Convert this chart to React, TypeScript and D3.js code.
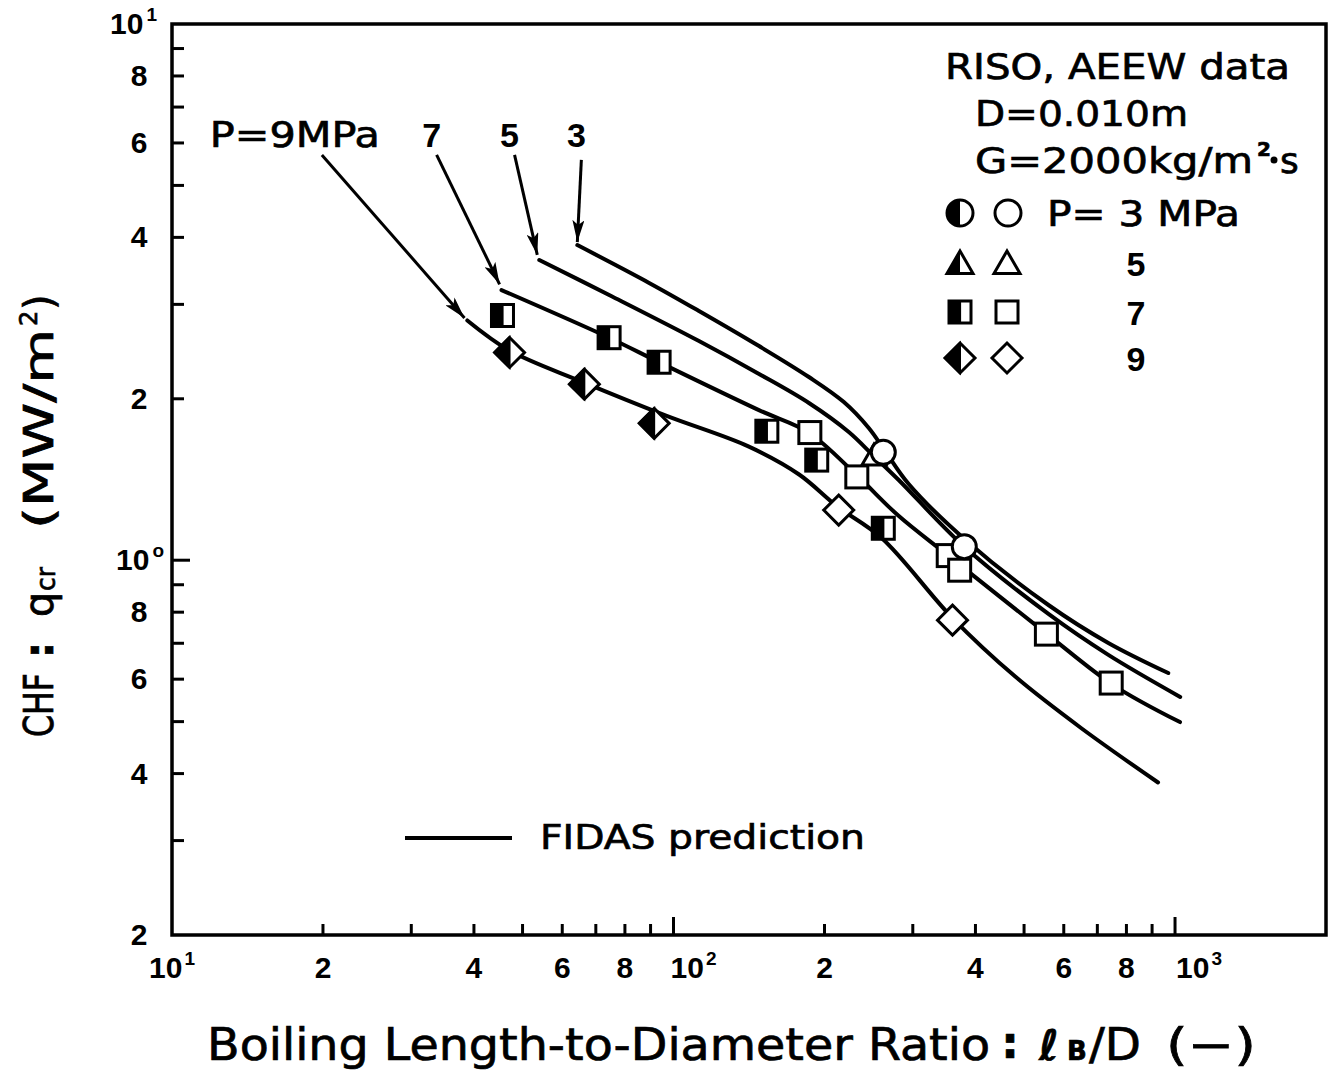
import React from 'react';
import * as d3 from 'd3';

// ---------- axis settings ----------
const X_DOMAIN: [number, number] = [10, 2000];
const Y_DOMAIN: [number, number] = [0.2, 10];

const xMinorTicks = [20, 30, 40, 50, 60, 70, 80, 90, 200, 300, 400, 500, 600, 700, 800, 900];
const xMajorTicks = [100, 1000];
const xLabelValues = [10, 20, 40, 60, 80, 100, 200, 400, 600, 800, 1000];
const xLabelTexts = ['10', '2', '4', '6', '8', '10', '2', '4', '6', '8', '10'];
const xLabelSups = ['1', '', '', '', '', '2', '', '', '', '', '3'];

const yMinorTicks = [0.3, 0.4, 0.5, 0.6, 0.7, 0.8, 0.9, 2, 3, 4, 5, 6, 7, 8, 9];
const yMajorTicks = [1];
const yLabelValues = [10, 8, 6, 4, 2, 1, 0.8, 0.6, 0.4, 0.2];
const yLabelTexts = ['10', '8', '6', '4', '2', '10', '8', '6', '4', '2'];
const yLabelSups = ['1', '', '', '', '', 'o', '', '', '', ''];

// ---------- FIDAS prediction curves ----------
const curveP3X = [64.3, 89.4, 112.4, 148.1, 186.2, 218.6, 245.1, 265, 294.4, 382.2, 559.2, 736.2, 969.4];
const curveP3Y = [3.87, 3.29, 2.916, 2.508, 2.196, 1.972, 1.764, 1.591, 1.387, 1.091, 0.825, 0.701, 0.616];

const curveP5X = [54, 75.1, 112.4, 148.1, 186.2, 223.6, 250.8, 281.2, 378.7, 559.2, 736.2, 1024];
const curveP5Y = [3.63, 3.11, 2.563, 2.225, 1.964, 1.734, 1.564, 1.411, 1.063, 0.794, 0.666, 0.556];

const curveP7X = [45.4, 74.4, 93.6, 148, 186, 232, 281, 353, 559, 753, 1023];
const curveP7Y = [3.19, 2.60, 2.34, 1.905, 1.73, 1.44, 1.21, 1.02, 0.725, 0.585, 0.499];

const curveP9X = [38.8, 47.1, 65.8, 96.6, 141, 178, 212, 260, 360, 480.8, 650.5, 925];
const curveP9Y = [2.80, 2.46, 2.15, 1.86, 1.63, 1.445, 1.26, 1.10, 0.78, 0.606, 0.486, 0.385];

// ---------- experimental data (RISO, AEEW) ----------
const p3OpenX = [262, 380];
const p3OpenY = [1.59, 1.06];
const p5OpenX = [251];
const p5OpenY = [1.55];
const p7HalfX = [45.6, 74.4, 93.6, 153.5, 193, 262];
const p7HalfY = [2.86, 2.60, 2.34, 1.74, 1.537, 1.147];
const p7OpenX = [187, 232, 353, 372, 554, 746];
const p7OpenY = [1.73, 1.43, 1.02, 0.958, 0.728, 0.59];
const p9HalfX = [47.1, 66.4, 91.5];
const p9HalfY = [2.44, 2.13, 1.80];
const p9OpenX = [213.5, 360];
const p9OpenY = [1.24, 0.773];

// ---------- curve labels / arrows (data coordinates) ----------
const arrowLabels = ['P=9MPa', '7', '5', '3'];
const arrowTailX = [19.9, 33.7, 48.2, 65.5];
const arrowTailY = [5.70, 5.70, 5.70, 5.58];
const arrowHeadX = [38.3, 45.0, 53.5, 64.3];
const arrowHeadY = [2.83, 3.27, 3.71, 3.92];

const FONT = "'DejaVu Sans', 'Noto Sans', sans-serif";
const NUMFONT = "'Liberation Sans', Arial, sans-serif";
const HEAVY = { stroke: '#000', strokeWidth: 0.7 };

const zip = (a: number[], b: number[]) => a.map((v, i) => [v, b[i]] as [number, number]);

function Square({ cx, cy, half }: { cx: number; cy: number; half: boolean }) {
  const s = 22;
  return (
    <g>
      <rect x={cx - s / 2} y={cy - s / 2} width={s} height={s} fill="#fff" stroke="#000" strokeWidth={3} />
      {half && <rect x={cx - s / 2} y={cy - s / 2} width={s * 0.55} height={s} fill="#000" />}
    </g>
  );
}

function Diamond({ cx, cy, half }: { cx: number; cy: number; half: boolean }) {
  const r = 15;
  return (
    <g>
      <polygon points={`${cx},${cy - r} ${cx + r},${cy} ${cx},${cy + r} ${cx - r},${cy}`} fill="#fff" stroke="#000" strokeWidth={3} strokeLinejoin="miter" />
      {half && <polygon points={`${cx},${cy - r} ${cx},${cy + r} ${cx - r},${cy}`} fill="#000" stroke="#000" strokeWidth={2} />}
    </g>
  );
}

function Circle({ cx, cy, half, r = 12 }: { cx: number; cy: number; half: boolean; r?: number }) {
  return (
    <g>
      <circle cx={cx} cy={cy} r={r} fill="#fff" stroke="#000" strokeWidth={3} />
      {half && <path d={`M${cx},${cy - r} A${r},${r} 0 0 0 ${cx},${cy + r} Z`} fill="#000" />}
    </g>
  );
}

function Triangle({ cx, cy, half, s = 24 }: { cx: number; cy: number; half: boolean; s?: number }) {
  const h = s * 0.866;
  const top = cy - (2 * h) / 3;
  const bot = cy + h / 3;
  return (
    <g>
      <polygon points={`${cx},${top} ${cx + s / 2},${bot} ${cx - s / 2},${bot}`} fill="#fff" stroke="#000" strokeWidth={3} strokeLinejoin="miter" />
      {half && <polygon points={`${cx},${top} ${cx},${bot} ${cx - s / 2},${bot}`} fill="#000" />}
    </g>
  );
}

export default function App() {
  const W = 1330;
  const H = 1070;
  const x = d3.scaleLog().domain(X_DOMAIN).range([172, 1326]);
  const y = d3.scaleLog().domain(Y_DOMAIN).range([935, 24]);

  const line = d3
    .line<[number, number]>()
    .x((d) => x(d[0]))
    .y((d) => y(d[1]))
    .curve(d3.curveCatmullRom.alpha(0.5));

  const curves = [
    zip(curveP3X, curveP3Y),
    zip(curveP5X, curveP5Y),
    zip(curveP7X, curveP7Y),
    zip(curveP9X, curveP9Y),
  ];

  const left = x(X_DOMAIN[0]);
  const right = x(X_DOMAIN[1]);
  const top = y(Y_DOMAIN[1]);
  const bottom = y(Y_DOMAIN[0]);

  const xLabelDx = (v: number) => (v === 100 ? 20 : v === 1000 ? 24 : 0);
  const labelBaseY = y(arrowTailY[0]) - 8;

  return (
    <svg
      width={W}
      height={H}
      viewBox={`0 0 ${W} ${H}`}
      style={{ display: 'block', background: '#fff', position: 'absolute', left: 0, top: 0 }}
    >
      <defs>
        <marker id="ah" markerUnits="userSpaceOnUse" markerWidth={24} markerHeight={12} refX={22} refY={6} orient="auto">
          <path d="M0,0 L22,6 L0,12 L5,6 Z" fill="#000" />
        </marker>
      </defs>
      <rect x={0} y={0} width={W} height={H} fill="#fff" />

      {/* frame */}
      <rect x={left} y={top} width={right - left} height={bottom - top} fill="none" stroke="#000" strokeWidth={3.5} />

      {/* x ticks */}
      {xMinorTicks.map((v) => (
        <line key={'xm' + v} x1={x(v)} x2={x(v)} y1={bottom} y2={bottom - 11} stroke="#000" strokeWidth={3} />
      ))}
      {xMajorTicks.map((v) => (
        <line key={'xM' + v} x1={x(v)} x2={x(v)} y1={bottom} y2={bottom - 18} stroke="#000" strokeWidth={3} />
      ))}
      {/* y ticks */}
      {yMinorTicks.map((v) => (
        <line key={'ym' + v} x1={left} x2={left + 12} y1={y(v)} y2={y(v)} stroke="#000" strokeWidth={3} />
      ))}
      {yMajorTicks.map((v) => (
        <line key={'yM' + v} x1={left} x2={left + 18} y1={y(v)} y2={y(v)} stroke="#000" strokeWidth={3} />
      ))}

      {/* x tick labels */}
      {xLabelValues.map((v, i) => (
        <text key={'xl' + v} x={x(v) + xLabelDx(v)} y={bottom + 43} textAnchor="middle" fontFamily={NUMFONT} fontWeight="bold" fontSize={30}>
          {xLabelTexts[i]}
          {xLabelSups[i] && (
            <tspan fontSize={19} dy={-13} dx={2}>
              {xLabelSups[i]}
            </tspan>
          )}
        </text>
      ))}
      {/* y tick labels */}
      {yLabelValues.map((v, i) =>
        yLabelSups[i] ? (
          <text key={'yl' + v} x={left - (v === 1 ? 8 : 15)} y={y(v) + 10} textAnchor="end" fontFamily={NUMFONT} fontWeight="bold" fontSize={30}>
            {yLabelTexts[i]}
            <tspan fontSize={19} dy={-13} dx={3}>
              {yLabelSups[i]}
            </tspan>
          </text>
        ) : (
          <text key={'yl' + v} x={left - 33} y={y(v) + 10} textAnchor="middle" fontFamily={NUMFONT} fontWeight="bold" fontSize={30}>
            {yLabelTexts[i]}
          </text>
        )
      )}

      {/* x axis title */}
      <g {...HEAVY}>
        <text x={207} y={1060} fontFamily={FONT} fontSize={44} textLength={783} lengthAdjust="spacingAndGlyphs">
          Boiling Length-to-Diameter Ratio
        </text>
        <text x={1010} y={1058} textAnchor="middle" fontFamily={FONT} fontSize={44} fontWeight="bold">:</text>
        <text x={1049} y={1060} textAnchor="middle" fontFamily={FONT} fontSize={42} fontStyle="italic" fontWeight="bold">ℓ</text>
        <text x={1077} y={1060} textAnchor="middle" fontFamily={FONT} fontSize={26} fontWeight="bold">B</text>
        <text x={1089} y={1060} fontFamily={FONT} fontSize={44} textLength={52} lengthAdjust="spacingAndGlyphs">/D</text>
        <text x={1166} y={1060} fontFamily={FONT} fontSize={44} textLength={90} lengthAdjust="spacingAndGlyphs">(−)</text>
      </g>

      {/* y axis title (rotated) */}
      <g transform="translate(53,737) rotate(-90)" {...HEAVY}>
        <text x={0} y={0} fontFamily={FONT} fontSize={40} textLength={64} lengthAdjust="spacingAndGlyphs">CHF</text>
        <text x={87} y={0} textAnchor="middle" fontFamily={FONT} fontSize={40} fontWeight="bold">:</text>
        <text x={120} y={0} fontFamily={FONT} fontSize={40} textLength={25} lengthAdjust="spacingAndGlyphs">q</text>
        <text x={146} y={2} fontFamily={FONT} fontSize={26} textLength={24} lengthAdjust="spacingAndGlyphs">cr</text>
        <text x={208} y={0} fontFamily={FONT} fontSize={40} textLength={200} lengthAdjust="spacingAndGlyphs">(MW/m</text>
        <text x={411} y={-16} fontFamily={FONT} fontSize={24}>2</text>
        <text x={427} y={0} fontFamily={FONT} fontSize={40}>)</text>
      </g>

      {/* prediction curves */}
      {curves.map((c, i) => (
        <path key={'c' + i} d={line(c) || ''} fill="none" stroke="#000" strokeWidth={4} strokeLinecap="round" />
      ))}

      {/* arrows and curve labels */}
      {arrowLabels.map((lab, i) => (
        <line
          key={'ar' + i}
          x1={x(arrowTailX[i])}
          y1={y(arrowTailY[i])}
          x2={x(arrowHeadX[i])}
          y2={y(arrowHeadY[i])}
          stroke="#000"
          strokeWidth={3}
          markerEnd="url(#ah)"
        />
      ))}
      <text x={x(arrowTailX[0]) + 58} y={labelBaseY} textAnchor="end" fontFamily={FONT} fontSize={36} textLength={170} lengthAdjust="spacingAndGlyphs" {...HEAVY}>
        {arrowLabels[0]}
      </text>
      {arrowLabels.slice(1).map((lab, j) => (
        <text key={'al' + j} x={x(arrowTailX[j + 1]) - 5} y={labelBaseY} textAnchor="middle" fontFamily={NUMFONT} fontWeight="bold" fontSize={34}>
          {lab}
        </text>
      ))}

      {/* data points */}
      {zip(p7HalfX, p7HalfY).map((d, i) => (
        <Square key={'p7h' + i} cx={x(d[0])} cy={y(d[1])} half />
      ))}
      {zip(p5OpenX, p5OpenY).map((d, i) => (
        <Triangle key={'p5o' + i} cx={x(d[0])} cy={y(d[1])} half={false} />
      ))}
      {zip(p7OpenX, p7OpenY).map((d, i) => (
        <Square key={'p7o' + i} cx={x(d[0])} cy={y(d[1])} half={false} />
      ))}
      {zip(p9HalfX, p9HalfY).map((d, i) => (
        <Diamond key={'p9h' + i} cx={x(d[0])} cy={y(d[1])} half />
      ))}
      {zip(p9OpenX, p9OpenY).map((d, i) => (
        <Diamond key={'p9o' + i} cx={x(d[0])} cy={y(d[1])} half={false} />
      ))}
      {zip(p3OpenX, p3OpenY).map((d, i) => (
        <Circle key={'p3o' + i} cx={x(d[0])} cy={y(d[1])} half={false} />
      ))}

      {/* legend (upper right) */}
      <g {...HEAVY}>
        <text x={945} y={79} fontFamily={FONT} fontSize={36} textLength={345} lengthAdjust="spacingAndGlyphs">RISO, AEEW data</text>
        <text x={975} y={126} fontFamily={FONT} fontSize={36} textLength={213} lengthAdjust="spacingAndGlyphs">D=0.010m</text>
        <text x={975} y={173} fontFamily={FONT} fontSize={36} textLength={278} lengthAdjust="spacingAndGlyphs">G=2000kg/m</text>
        <text x={1257} y={156} fontFamily={FONT} fontSize={20} fontWeight="bold">2</text>
        <text x={1280} y={173} fontFamily={FONT} fontSize={36}>s</text>
        <text x={1047} y={226} fontFamily={FONT} fontSize={36} textLength={193} lengthAdjust="spacingAndGlyphs">P= 3 MPa</text>
      </g>
      <circle cx={1274} cy={160} r={3.5} fill="#000" />

      <Circle cx={960} cy={213} half r={13} />
      <Circle cx={1008} cy={213} half={false} r={13} />

      <Triangle cx={960} cy={266} half s={26} />
      <Triangle cx={1007} cy={266} half={false} s={26} />
      <text x={1136} y={276} textAnchor="middle" fontFamily={NUMFONT} fontWeight="bold" fontSize={34}>5</text>

      <Square cx={960} cy={312} half />
      <Square cx={1007} cy={312} half={false} />
      <text x={1136} y={325} textAnchor="middle" fontFamily={NUMFONT} fontWeight="bold" fontSize={34}>7</text>

      <Diamond cx={960} cy={358} half />
      <Diamond cx={1007} cy={358} half={false} />
      <text x={1136} y={371} textAnchor="middle" fontFamily={NUMFONT} fontWeight="bold" fontSize={34}>9</text>

      {/* FIDAS legend */}
      <line x1={405} x2={512} y1={838} y2={838} stroke="#000" strokeWidth={4} />
      <text x={540} y={849} fontFamily={FONT} fontSize={34} textLength={325} lengthAdjust="spacingAndGlyphs" {...HEAVY}>FIDAS prediction</text>
    </svg>
  );
}
